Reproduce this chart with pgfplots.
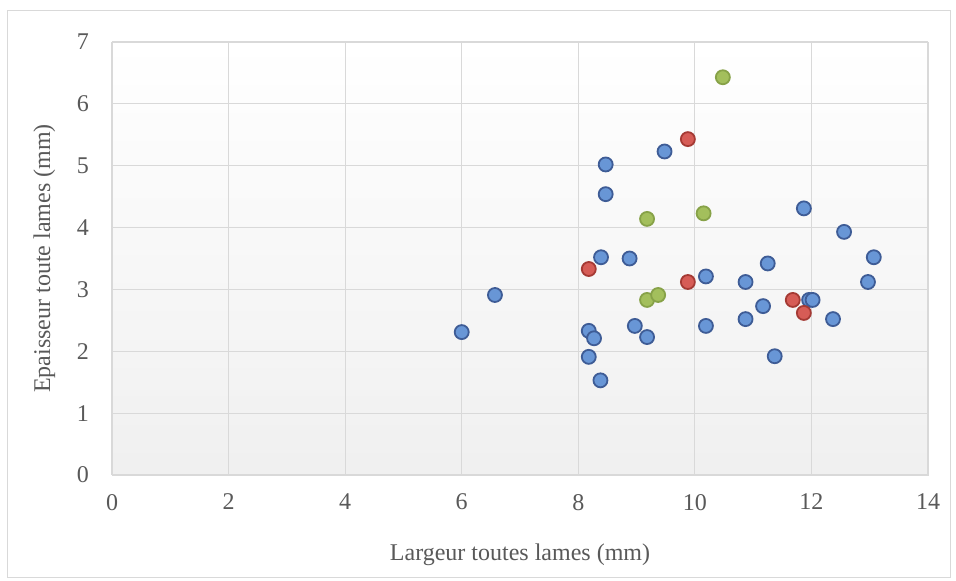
\documentclass[border=0pt]{standalone}
\usepackage{pgfplots}
\pgfplotsset{compat=1.18}
\usepackage{fontspec}
\setmainfont{Liberation Serif}

\definecolor{txt}{RGB}{89,89,89}
\definecolor{gridc}{RGB}{217,217,217}
\definecolor{bluef}{RGB}{104,150,214}
\definecolor{bluee}{RGB}{62,92,150}
\definecolor{redf}{RGB}{214,92,86}
\definecolor{rede}{RGB}{165,58,52}
\definecolor{greenf}{RGB}{163,191,92}
\definecolor{greene}{RGB}{135,162,72}

\begin{document}
\begin{tikzpicture}
    % 1 px = 0.5pt
    \path[use as bounding box] (0pt,0pt) rectangle (478pt,290.5pt);
    \draw[gray!30,fill=white] (3.5pt,2pt) rectangle (475pt,285.5pt);
    \begin{axis}[
        at={(56pt,53pt)}, anchor=origin,
        scale only axis,
        width=408pt, height=216.5pt,
        xmin=0, xmax=14, ymin=0, ymax=7,
        xtick={0,2,...,14}, ytick={0,1,...,7},
        grid=major,
        grid style={gridc, line width=0.6pt},
        axis line style={gridc},
        major tick length=0pt,
        tick label style={text=txt, font=\fontsize{12}{13}\selectfont},
        /pgf/number format/assume math mode=true,
        xticklabel style={yshift=-6pt},
        yticklabel style={xshift=-8pt},
        xlabel={Largeur toutes lames (mm)},
        ylabel={Epaisseur toute lames (mm)},
        label style={text=txt, font=\fontsize{12}{13}\selectfont},
        xlabel style={yshift=-10pt},
        ylabel style={yshift=4pt},
        axis background/.style={shade, top color=white, bottom color=black!6},
        clip=false,
    ]
    % bleu
    \addplot[only marks, mark=*, mark size=3.5pt,
        mark options={fill=bluef, draw=bluee, line width=0.9pt}] coordinates {
        (6.0,2.31) (6.57,2.91) (8.18,2.33) (8.27,2.21) (8.18,1.91) (8.38,1.53)
        (8.39,3.52) (8.47,4.54) (8.47,5.02) (8.88,3.50) (8.97,2.41) (9.18,2.23)
        (9.48,5.23) (10.19,3.21) (10.19,2.41) (10.87,3.12) (10.87,2.52)
        (11.17,2.73) (11.25,3.42) (11.37,1.92) (11.87,4.31) (11.96,2.83)
        (12.02,2.83) (12.37,2.52) (12.56,3.93) (12.97,3.12) (13.07,3.52)
    };
    % rouge
    \addplot[only marks, mark=*, mark size=3.5pt,
        mark options={fill=redf, draw=rede, line width=0.9pt}] coordinates {
        (8.18,3.33) (9.88,5.43) (9.88,3.12) (11.68,2.83) (11.87,2.62)
    };
    % vert
    \addplot[only marks, mark=*, mark size=3.5pt,
        mark options={fill=greenf, draw=greene, line width=0.9pt}] coordinates {
        (9.18,4.14) (9.18,2.83) (9.37,2.91) (10.15,4.23) (10.48,6.43)
    };
    \end{axis}
\end{tikzpicture}
\end{document}
